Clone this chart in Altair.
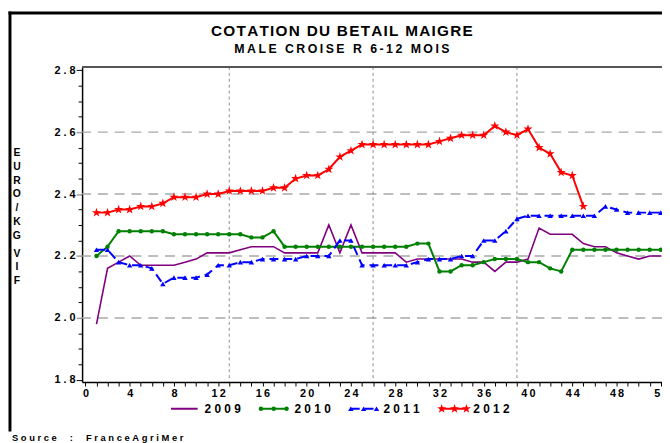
import altair as alt
import pandas as pd

# ---------------- data ----------------
weeks = list(range(1, 53))
years = ["2009", "2010", "2011", "2012"]
colors = ["#800080", "#008000", "#0000ff", "#ff0000"]

p2009 = [1.98, 2.16, 2.18, 2.20, 2.17, 2.17, 2.17, 2.17, 2.18, 2.19,
         2.21, 2.21, 2.21, 2.22, 2.23, 2.23, 2.23, 2.21, 2.21, 2.21,
         2.21, 2.30, 2.21, 2.30, 2.21, 2.21, 2.21, 2.21, 2.18, 2.19,
         2.19, 2.19, 2.19, 2.19, 2.18, 2.18, 2.15, 2.18, 2.18, 2.19,
         2.29, 2.27, 2.27, 2.27, 2.24, 2.23, 2.23, 2.21, 2.20, 2.19,
         2.20, 2.20]
p2010 = [2.20, 2.23, 2.28, 2.28, 2.28, 2.28, 2.28, 2.27, 2.27, 2.27,
         2.27, 2.27, 2.27, 2.27, 2.26, 2.26, 2.28, 2.23, 2.23, 2.23,
         2.23, 2.23, 2.23, 2.23, 2.23, 2.23, 2.23, 2.23, 2.23, 2.24,
         2.24, 2.15, 2.15, 2.17, 2.17, 2.18, 2.19, 2.19, 2.19, 2.18,
         2.18, 2.16, 2.15, 2.22, 2.22, 2.22, 2.22, 2.22, 2.22, 2.22,
         2.22, 2.22]
p2011 = [2.22, 2.22, 2.18, 2.17, 2.17, 2.16, 2.11, 2.13, 2.13, 2.13,
         2.14, 2.17, 2.17, 2.18, 2.18, 2.19, 2.19, 2.19, 2.19, 2.20,
         2.20, 2.20, 2.25, 2.25, 2.17, 2.17, 2.17, 2.17, 2.17, 2.18,
         2.19, 2.19, 2.19, 2.20, 2.20, 2.25, 2.25, 2.28, 2.32, 2.33,
         2.33, 2.33, 2.33, 2.33, 2.33, 2.33, 2.36, 2.35, 2.34, 2.34,
         2.34, 2.34]
p2012 = [2.34, 2.34, 2.35, 2.35, 2.36, 2.36, 2.37, 2.39, 2.39, 2.39,
         2.40, 2.40, 2.41, 2.41, 2.41, 2.41, 2.42, 2.42, 2.45, 2.46,
         2.46, 2.48, 2.52, 2.54, 2.56, 2.56, 2.56, 2.56, 2.56, 2.56,
         2.56, 2.57, 2.58, 2.59, 2.59, 2.59, 2.62, 2.60, 2.59, 2.61,
         2.55, 2.53, 2.47, 2.46, 2.36]

hgrid = [2.0, 2.2, 2.4, 2.6]
vgrid = [13, 26, 39]
y_ticks = [round(1.8 + 0.05 * i, 2) for i in range(21)]
x_ticks = list(range(0, 53))

title_text = "COTATION DU BETAIL MAIGRE"
subtitle_text = "MALE CROISE R 6-12 MOIS"
ytitle_a = ["E", "U", "R", "O", "/", "K", "G"]
ytitle_b = ["V", "I", "F"]
source_word = "Source"
source_name = "FranceAgriMer"

rows = []
for yr, vals in zip(years, [p2009, p2010, p2011, p2012]):
    for w, v in zip(weeks, vals):
        rows.append({"year": yr, "week": w, "price": v})
df = pd.DataFrame(rows)

# ---------------- layout ----------------
FONT = "Liberation Sans"
W, H = 587, 319
XDOM = [-0.3, 52.11]
YDOM = [1.7927, 2.8105]
PXW = W / (XDOM[1] - XDOM[0])
PXH = H / (YDOM[1] - YDOM[0])


def wk(px):
    return XDOM[0] + px / PXW


def pr(py):
    return YDOM[1] - py / PXH


HAIR = "\u200a"
THIN = "\u2009"
NBSP = "\u00a0"


def spaced(s, sep):
    return sep.join(list(s))


major = "abs(datum.value*5 - round(datum.value*5)) < 0.001"
inner = major + " && datum.value > 1.9 && datum.value < 2.7"

x_axis = alt.Axis(
    values=x_ticks, title=None, grid=False,
    labelExpr="datum.value % 4 == 0 ? (datum.value >= 10 ? floor(datum.value/10) + '" + THIN
              + "' + (datum.value % 10) : '' + datum.value) : ''",
    labelOverlap=False, labelFlush=False,
    domainColor="black", domainWidth=1.5, tickColor="black", tickSize=4, tickWidth=1,
    labelFont=FONT, labelFontSize=11, labelFontWeight="bold", labelColor="black", labelPadding=2,
)
y_axis = alt.Axis(
    values=y_ticks, title=None, grid=False,
    labelExpr=major + " ? replace(format(datum.value, '.1f'), '.', '" + NBSP + "." + NBSP + "') : ''",
    labelOverlap=False, labelFlush=False,
    domainColor="black", domainWidth=1.5,
    tickColor={"condition": {"test": inner, "value": "#a0a0a0"}, "value": "black"},
    tickSize={"condition": {"test": major, "value": 6}, "value": 4},
    tickWidth={"condition": {"test": inner, "value": 1.5}, "value": 1},
    labelFont=FONT, labelFontSize=11, labelFontWeight="bold", labelColor="black", labelPadding=1,
)


def X(field="week"):
    return alt.X(f"{field}:Q", scale=alt.Scale(domain=XDOM, nice=False, zero=False), axis=x_axis)


def Y(field="price"):
    return alt.Y(f"{field}:Q", scale=alt.Scale(domain=YDOM, nice=False, zero=False), axis=y_axis)


STAR = ("M0,-1 L0.23,-0.31 L0.95,-0.31 L0.37,0.12 L0.59,0.81 L0,0.39 "
        "L-0.59,0.81 L-0.37,0.12 L-0.95,-0.31 L-0.23,-0.31 Z")

one = pd.DataFrame({"a": [0]})

hg = alt.Chart(pd.DataFrame({"price": hgrid})).mark_rule(
    color="#a8a8a8", strokeDash=[10, 7], strokeWidth=1.5).encode(y=Y())
vg = alt.Chart(pd.DataFrame({"week": vgrid})).mark_rule(
    color="#8c8c8c", strokeDash=[3, 3], strokeWidth=1).encode(x=X())

base = alt.Chart(df)


def sel(y):
    return base.transform_filter(alt.datum.year == y)


l09 = sel("2009").mark_line(color=colors[0], strokeWidth=1.6).encode(x=X(), y=Y())
l10 = sel("2010").mark_line(color=colors[1], strokeWidth=2).encode(x=X(), y=Y())
m10 = sel("2010").mark_point(color=colors[1], filled=True, opacity=1, shape="circle", size=20).encode(x=X(), y=Y())
l11 = sel("2011").mark_line(color=colors[2], strokeWidth=2, strokeDash=[9, 5]).encode(x=X(), y=Y())
m11 = sel("2011").mark_point(color=colors[2], filled=True, opacity=1, shape="triangle-up", size=30).encode(x=X(), y=Y())
l12 = sel("2012").mark_line(color=colors[3], strokeWidth=2).encode(x=X(), y=Y())
m12 = sel("2012").mark_point(color=colors[3], filled=True, opacity=1, shape=STAR, size=95).encode(x=X(), y=Y())

# ---------------- legend ----------------
LY = pr(346)
leg_line = pd.DataFrame({
    "year": years,
    "week": [wk(90), wk(181), wk(272), wk(362)],
    "week2": [wk(117), wk(208), wk(299), wk(390)],
    "price": [LY] * 4,
})
leg_text = pd.DataFrame({
    "year": years,
    "label": [spaced(y, NBSP) for y in years],
    "week": [wk(124), wk(215), wk(305), wk(396)],
    "price": [LY] * 4,
})
leg_mk = pd.DataFrame({
    "year": ["2010"] * 3 + ["2011"] * 3 + ["2012"] * 3,
    "week": [wk(181), wk(194), wk(207), wk(272), wk(285), wk(298), wk(364), wk(377), wk(389)],
    "price": [LY] * 9,
})

lg_rules = []
for yr, dash in zip(years, [[1, 0], [1, 0], [9, 5], [1, 0]]):
    lg_rules.append(
        alt.Chart(leg_line[leg_line.year == yr]).mark_rule(
            strokeWidth=2, strokeDash=dash, color=colors[years.index(yr)]
        ).encode(x=X(), x2="week2:Q", y=Y())
    )
lg_m10 = alt.Chart(leg_mk[leg_mk.year == "2010"]).mark_point(
    color=colors[1], filled=True, opacity=1, shape="circle", size=20).encode(x=X(), y=Y())
lg_m11 = alt.Chart(leg_mk[leg_mk.year == "2011"]).mark_point(
    color=colors[2], filled=True, opacity=1, shape="triangle-up", size=30).encode(x=X(), y=Y())
lg_m12 = alt.Chart(leg_mk[leg_mk.year == "2012"]).mark_point(
    color=colors[3], filled=True, opacity=1, shape=STAR, size=95).encode(x=X(), y=Y())
lg_txt = alt.Chart(leg_text).mark_text(
    align="left", baseline="middle", font=FONT, fontSize=12, fontWeight="bold", color="black"
).encode(x=X(), y=Y(), text="label:N")

# ---------------- decorations ----------------
title = alt.Chart(one).mark_text(
    text=spaced(title_text, HAIR), font=FONT, fontSize=15.5, fontWeight="bold",
    align="center", baseline="middle", color="black"
).encode(x=alt.value(263), y=alt.value(-36))
subtitle = alt.Chart(one).mark_text(
    text=spaced(subtitle_text, THIN), font=FONT, fontSize=12.5, fontWeight="bold",
    align="center", baseline="middle", color="black"
).encode(x=alt.value(263), y=alt.value(-18))
yt_a = alt.Chart(one).mark_text(
    text=ytitle_a, lineHeight=14, font=FONT, fontSize=10.5, fontWeight="bold",
    align="center", baseline="top", color="black"
).encode(x=alt.value(-66), y=alt.value(82))
yt_b = alt.Chart(one).mark_text(
    text=ytitle_b, lineHeight=14, font=FONT, fontSize=10.5, fontWeight="bold",
    align="center", baseline="top", color="black"
).encode(x=alt.value(-66), y=alt.value(184))
src_text = spaced(source_word, NBSP) + NBSP * 5 + ":" + NBSP * 5 + spaced(source_name, NBSP)
src = alt.Chart(one).mark_text(
    text=src_text, font=FONT, fontSize=9.5, fontWeight="bold",
    align="left", baseline="middle", color="black"
).encode(x=alt.value(-71), y=alt.value(376))

border_l = alt.Chart(one).mark_rule(color="black", strokeWidth=3).encode(
    x=alt.value(-73), y=alt.value(-56), y2=alt.value(369))
border_t = alt.Chart(one).mark_rule(color="black", strokeWidth=3).encode(
    x=alt.value(-74.5), x2=alt.value(620), y=alt.value(-54.5))
frame_t = alt.Chart(one).mark_rule(color="#555555", strokeWidth=2).encode(
    x=alt.value(0), x2=alt.value(620), y=alt.value(0))

chart = alt.layer(
    hg, vg, frame_t,
    l09, l10, m10, l11, m11, l12, m12,
    *lg_rules, lg_m10, lg_m11, lg_m12, lg_txt,
    title, subtitle, yt_a, yt_b, src, border_l, border_t,
).properties(
    width=W, height=H,
    autosize=alt.AutoSizeParams(type="none"),
    padding={"left": 75, "top": 57, "right": 0, "bottom": 59},
    background="white",
).configure_view(stroke=None)

chart.save("out.html", embed_options={"renderer": "svg", "actions": False})
